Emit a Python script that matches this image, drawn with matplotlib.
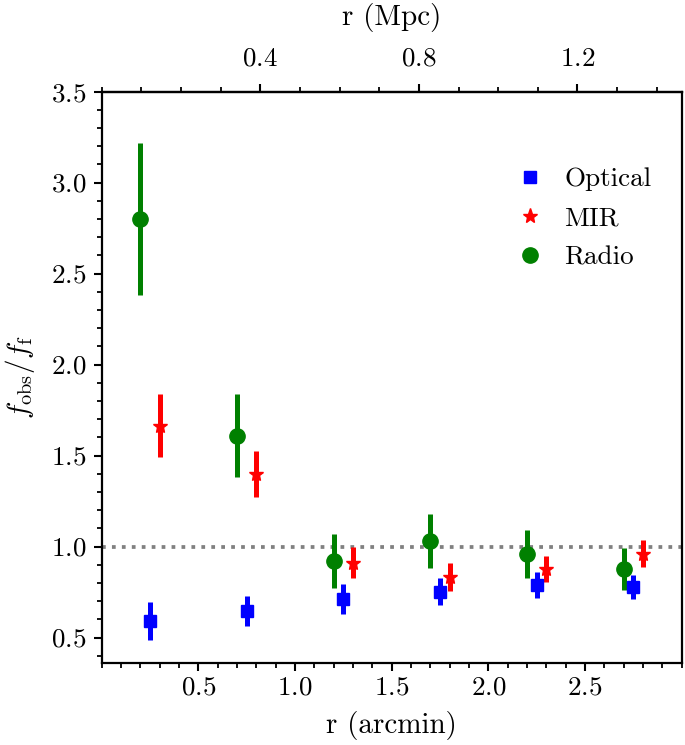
import matplotlib
matplotlib.use("Agg")
import matplotlib.pyplot as plt
from matplotlib.ticker import MultipleLocator
from matplotlib.lines import Line2D

plt.rcParams['font.family'] = 'serif'
plt.rcParams['font.serif'] = ['cmr10']
plt.rcParams['mathtext.fontset'] = 'cm'
plt.rcParams['axes.formatter.use_mathtext'] = True

# === Data ===
r_radio = [0.2, 0.7, 1.2, 1.7, 2.2, 2.7]
f_radio = [2.80, 1.61, 0.92, 1.03, 0.96, 0.875]
e_radio = [0.42, 0.23, 0.15, 0.15, 0.13, 0.115]

r_opt = [0.25, 0.75, 1.25, 1.75, 2.25, 2.75]
f_opt = [0.59, 0.647, 0.712, 0.752, 0.789, 0.776]
e_opt = [0.105, 0.083, 0.08, 0.075, 0.07, 0.066]

r_mir = [0.3, 0.8, 1.3, 1.8, 2.3, 2.8]
f_mir = [1.665, 1.40, 0.91, 0.834, 0.878, 0.96]
e_mir = [0.175, 0.126, 0.085, 0.076, 0.073, 0.074]

mpc_per_arcmin = 0.4875

fig = plt.figure(figsize=(6.85, 7.45), dpi=100)
ax = fig.add_axes([0.1485, 0.110, 0.8465, 0.767])

ax.axhline(1.0, color='gray', ls=':', lw=2.7, zorder=1)

ax.errorbar(r_opt, f_opt, yerr=e_opt, fmt='s', color='blue', ms=9, elinewidth=3.6, capsize=0)
ax.errorbar(r_mir, f_mir, yerr=e_mir, fmt='*', color='red', ms=11, elinewidth=3.6, capsize=0)
ax.errorbar(r_radio, f_radio, yerr=e_radio, fmt='o', color='green', ms=11, elinewidth=3.6, capsize=0)

handles = [Line2D([], [], ls='', marker='s', color='blue', ms=9),
           Line2D([], [], ls='', marker='*', color='red', ms=11),
           Line2D([], [], ls='', marker='o', color='green', ms=11)]
ax.legend(handles, ['Optical', 'MIR', 'Radio'], frameon=False, fontsize=19.5,
          loc='upper right', bbox_to_anchor=(0.99, 0.91), handletextpad=0.25,
          labelspacing=0.55)

ax.set_xlim(0, 3.0)
ax.set_ylim(0.36, 3.5)
ax.set_xticks([0.5, 1.0, 1.5, 2.0, 2.5])
ax.xaxis.set_minor_locator(MultipleLocator(0.1))
ax.yaxis.set_major_locator(MultipleLocator(0.5))
ax.yaxis.set_minor_locator(MultipleLocator(0.1))
ax.set_xlabel('r (arcmin)', fontsize=21, labelpad=8)
ax.set_ylabel(r'$f_{\rm obs}/f_{\rm f}$', fontsize=21, labelpad=10)

secax = ax.secondary_xaxis('top', functions=(lambda x: x * mpc_per_arcmin,
                                              lambda x: x / mpc_per_arcmin))
secax.set_xticks([0.4, 0.8, 1.2])
secax.xaxis.set_minor_locator(MultipleLocator(0.1))
secax.set_xlabel('r (Mpc)', fontsize=21, labelpad=16)

for a in (ax, secax):
    a.tick_params(which='major', direction='out', length=6, width=1.5, labelsize=19.5)
    a.tick_params(which='minor', direction='out', length=3.5, width=1.3)
ax.tick_params(axis='y', which='major', pad=5)
secax.tick_params(which='major', pad=9)
for s in ax.spines.values():
    s.set_linewidth(1.6)
secax.spines['top'].set_linewidth(1.6)

fig.savefig('out.png', dpi=100)
